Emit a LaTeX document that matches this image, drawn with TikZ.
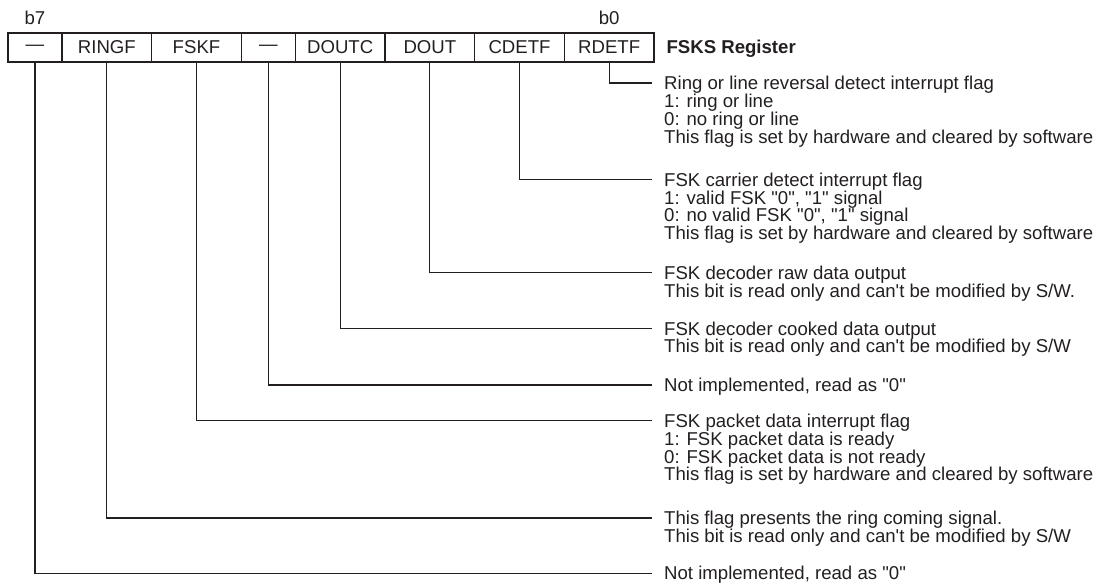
\documentclass[tikz,border=0pt]{standalone}
\usepackage{fontspec}
\setmainfont{Liberation Sans}[Ligatures=TeXOff]
\usetikzlibrary{positioning}
\definecolor{ink}{RGB}{35,31,32}

\begin{document}
\begin{tikzpicture}[
  x=1pt, y=-1pt,
  font=\fontsize{18.6}{17.7}\selectfont,
  cell/.style={
    draw=ink, line width=1.1pt, text=ink,
    minimum width=89.67pt, minimum height=29pt,
    inner sep=0pt, outer sep=0pt
  },
  narrow/.style={cell, minimum width=54pt},
  desc/.style={
    anchor=north west, align=left, inner sep=0pt, text=ink
  },
  leader/.style={draw=ink, line width=1.1pt},
]
\useasboundingbox (0,0) rectangle (1099,583);

% register cells, b7 on the left
\node[narrow] (c7) at (35,47.5) {—};
\node[cell, right=0pt of c7]   (c6) {RINGF};
\node[cell, right=0pt of c6]   (c5) {FSKF};
\node[narrow, right=0pt of c5] (c4) {—};
\node[cell, right=0pt of c4]   (c3) {DOUTC};
\node[cell, right=0pt of c3]   (c2) {DOUT};
\node[cell, right=0pt of c2]   (c1) {CDETF};
\node[cell, right=0pt of c1]   (c0) {RDETF};

\node[anchor=base, text=ink] (lb7) at ([yshift=8pt]c7.north) {b7};
\node[anchor=base, text=ink] (lb0) at ([yshift=8pt]c0.north) {b0};
\node[anchor=base west, text=ink, font=\fontsize{18.6}{17.7}\selectfont\bfseries]
  (title) at ([xshift=9pt]c0.base east) {FSKS Register};

% leader ends
\coordinate (e0) at (652,83);
\coordinate (e1) at (652,179.5);
\coordinate (e2) at (652,272.7);
\coordinate (e3) at (652,328.3);
\coordinate (e4) at (652,385);
\coordinate (e5) at (652,420.7);
\coordinate (e6) at (652,518);
\coordinate (e7) at (652,573.5);

\foreach \i in {0,...,7}
  \draw[leader] (c\i.south) |- (e\i);

% bit descriptions
\node[desc] (d0) at ([shift={(12,-6.7)}]e0) {Ring or line reversal detect interrupt flag\\
  1: ring or line\\
  0: no ring or line\\
  This flag is set by hardware and cleared by software};
\node[desc] (d1) at ([shift={(12,-6.7)}]e1) {FSK carrier detect interrupt flag\\
  1: valid FSK "0", "1" signal\\
  0: no valid FSK "0", "1" signal\\
  This flag is set by hardware and cleared by software};
\node[desc] (d2) at ([shift={(12,-6.7)}]e2) {FSK decoder raw data output\\
  This bit is read only and can't be modified by S/W.};
\node[desc] (d3) at ([shift={(12,-6.7)}]e3) {FSK decoder cooked data output\\
  This bit is read only and can't be modified by S/W};
\node[desc] (d4) at ([shift={(12,-6.7)}]e4) {Not implemented, read as "0"};
\node[desc] (d5) at ([shift={(12,-6.7)}]e5) {FSK packet data interrupt flag\\
  1: FSK packet data is ready\\
  0: FSK packet data is not ready\\
  This flag is set by hardware and cleared by software};
\node[desc] (d6) at ([shift={(12,-6.7)}]e6) {This flag presents the ring coming signal.\\
  This bit is read only and can't be modified by S/W};
\node[desc] (d7) at ([shift={(12,-8)}]e7) {Not implemented, read as "0"};

\end{tikzpicture}
\end{document}
